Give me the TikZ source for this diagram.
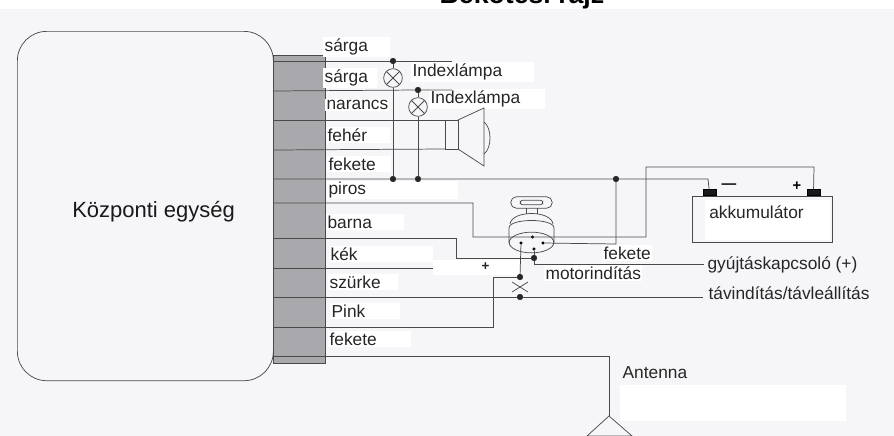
\documentclass[tikz,border=0pt]{standalone}
\usepackage{fontspec}
\setmainfont{Liberation Sans}
\usepackage{xcolor}
\usetikzlibrary{
    calc,
    shapes,
    positioning
}
\definecolor{scanbg}{HTML}{F6F6F9}
\definecolor{wirecol}{HTML}{4A4A4A}
\definecolor{blockcol}{HTML}{A9A9AD}
\tikzset{wdot/.style={inner sep=0pt, minimum size=4.2pt, circle, draw=black!85, fill=black!85}}
\tikzset{pinpt/.style={inner sep=0pt, minimum size=2pt, circle, draw=black, fill=black}}
\tikzset{lbl/.style={anchor=west, inner sep=1pt, fill=white, text=black!85, align=left, font=\fontsize{13}{14}\selectfont}}
\tikzset{wire/.style={draw=wirecol, line width=0.55pt}}
\tikzset{lampa/.style={inner sep=0pt, minimum size=14pt, circle, draw=wirecol, line width=0.55pt}}
\tikzset{polus/.style={inner sep=0pt, minimum width=10pt, minimum height=4.5pt, draw=black, fill=black!90}}

\begin{document}
\begin{tikzpicture}[x=0.75pt, y=-0.75pt]
    \useasboundingbox (0, 0) rectangle (894, 436);
    \fill[scanbg] (0, 0) rectangle (894, 436);
    \fill[white] (0, 0) rectangle (894, 9);
    \fill[white] (620, 385) rectangle (846, 421);
    \fill[white] (705, 200) rectangle (830, 240);
    \fill[white] (433, 260) rectangle (520, 275);

    % title, cut by the top edge
    \node[font=\bfseries\fontsize{20}{21}\selectfont, anchor=base, inner sep=0pt] (cim) at (522, 3) {Bekötési rajz};

    % central unit
    \node[draw=wirecol, line width=0.55pt, rounded corners=22pt, minimum width=192pt, minimum height=262pt, anchor=north west, inner sep=0pt] (kozpont) at (17, 31) {};
    \node[anchor=west, inner sep=0pt, font=\fontsize{16.5}{18}\selectfont, text=black!90] (kozpnev) at (72, 212) {Központi egység};
    \node[fill=blockcol, draw=wirecol, line width=0.4pt, minimum width=39pt, minimum height=231pt, anchor=north west, inner sep=0pt] (blokk) at (273, 55) {};

    % wire ends on the block
    \coordinate (a1) at (273, 61);
    \coordinate (a2) at (273, 91);
    \coordinate (a3) at (273, 120);
    \coordinate (a4) at (273, 150);
    \coordinate (a5) at (273, 179);
    \coordinate (a6) at (273, 203);
    \coordinate (a7) at (273, 238);
    \coordinate (a8) at (273, 268);
    \coordinate (a9) at (273, 297);
    \coordinate (a10) at (273, 327);
    \coordinate (a11) at (273, 356);

    % labels
    \node[lbl, text width=48pt] (l1) at (323, 47) {sárga};
    \node[lbl, text width=38pt] (l2) at (323, 78) {sárga};
    \node[lbl, text width=46pt] (l3) at (325, 105) {narancs};
    \node[lbl, text width=46pt] (l4) at (326, 135) {fehér};
    \node[lbl, text width=46pt] (l5) at (327, 164) {fekete};
    \node[lbl, text width=96pt] (l6) at (327, 190) {piros};
    \node[lbl, text width=56pt] (l7) at (326, 222) {barna};
    \node[lbl, text width=76pt] (l8) at (329, 254) {kék};
    \node[lbl, text width=50pt] (l9) at (328, 282) {szürke};
    \node[lbl, text width=50pt] (l10) at (330, 311) {Pink};
    \node[lbl, text width=60pt] (l11) at (328, 339) {fekete};
    \node[lbl, text width=90pt] (lx1) at (411, 72) {Indexlámpa};
    \node[lbl, text width=85pt] (lx2) at (429, 99) {Indexlámpa};
    \node[lbl] (lfek) at (602, 253) {fekete};
    \node[lbl] (lmot) at (544, 273) {motorindítás};
    \node[lbl, fill=none] (lgyu) at (706, 265) {gyújtáskapcsoló (+)};
    \node[lbl, fill=none] (ltav) at (707, 293) {távindítás/távleállítás};
    \node[lbl, fill=none] (lant) at (621, 373) {Antenna};
    \node[lbl, fill=none, font=\bfseries\fontsize{10}{11}\selectfont] (lplus) at (480, 267) {+};

    % dots
    \node[wdot] (d1) at (393, 61) {};
    \node[wdot] (d2) at (418, 90) {};
    \node[wdot] (d3) at (393, 179) {};
    \node[wdot] (d4) at (418, 179) {};
    \node[wdot] (d5) at (616, 179) {};
    \node[wdot] (d6) at (534, 258) {};
    \node[wdot] (d7) at (520, 277) {};
    \node[wdot] (d8) at (520, 297) {};

    % lamps
    \node[lampa] (lamp1) at (393, 78) {};
    \node[lampa] (lamp2) at (418, 107) {};
    \draw[wire] (lamp1.north west) -- (lamp1.south east);
    \draw[wire] (lamp1.north east) -- (lamp1.south west);
    \draw[wire] (lamp2.north west) -- (lamp2.south east);
    \draw[wire] (lamp2.north east) -- (lamp2.south west);

    % speaker
    \coordinate (sp1) at (445, 120);
    \coordinate (sp2) at (458, 120);
    \coordinate (sp3) at (458, 149);
    \coordinate (sp4) at (445, 149);
    \coordinate (sp5) at (484, 108);
    \coordinate (sp6) at (484, 166);
    \coordinate (sp7) at (484, 122);
    \coordinate (sp8) at (484, 154);
    \draw[wire] (sp1) -- (sp2) -- (sp3) -- (sp4) -- cycle;
    \draw[wire] (sp2) -- (sp5) -- (sp6) -- (sp3);
    \draw[wire] (sp7) .. controls (492, 128) and (492, 148) .. (sp8);

    % ignition switch
    \node[draw=wirecol, fill=none, line width=0.55pt, rounded corners=4pt, minimum width=31pt, minimum height=8.5pt, inner sep=0pt] (kulcs) at (531.5, 202.5) {};
    \node[draw=wirecol, line width=0.55pt, rounded corners=2pt, minimum width=17pt, minimum height=3.5pt, inner sep=0pt] (kulcsb) at (531.5, 202.5) {};
    \coordinate (sz1) at (526, 208);
    \coordinate (sz2) at (526, 214);
    \coordinate (sz3) at (537, 208);
    \coordinate (sz4) at (537, 214);
    \draw[wire] (sz1) -- (sz2);
    \draw[wire] (sz3) -- (sz4);
    \draw[wire] (510, 224) .. controls (512, 210) and (551, 210) .. (553, 224);
    \draw[wire] (509, 243) -- (509, 228) .. controls (509, 218) and (554, 218) .. (554, 228) -- (554, 243);
    \node[draw=wirecol, line width=0.55pt, ellipse, minimum width=33.5pt, minimum height=15.5pt, inner sep=0pt] (kapcs) at (531.5, 242.5) {};
    \node[pinpt] (p1) at (532.5, 237) {};
    \node[pinpt] (p2) at (521, 243) {};
    \node[pinpt] (p3) at (543, 243) {};
    \node[pinpt] (p4) at (534, 249) {};

    % battery
    \node[draw=wirecol, line width=0.55pt, minimum width=105pt, minimum height=34.5pt, anchor=north west, inner sep=0pt] (akku) at (692, 196) {};
    \node[anchor=west, inner sep=0pt, font=\fontsize{13}{14}\selectfont, text=black!85] (lakku) at (709, 212) {akkumulátor};
    \node[polus, anchor=south] (neg) at (709.5, 196) {};
    \node[polus, anchor=south] (pos) at (813.5, 196) {};
    \node[font=\bfseries\fontsize{11}{12}\selectfont, inner sep=0pt] (lmin) at (729, 186) {---};
    \node[font=\bfseries\fontsize{11}{12}\selectfont, inner sep=0pt] (lpos) at (797, 186) {+};

    % wires
    \coordinate (e1) at (452, 61);
    \coordinate (e2) at (452, 90);
    \coordinate (b1) at (473, 203);
    \coordinate (b2) at (473, 237);
    \coordinate (b3) at (646, 237);
    \coordinate (b4) at (646, 167);
    \coordinate (b5) at (814, 167);
    \coordinate (c1) at (708, 179);
    \coordinate (c2) at (616, 244);
    \coordinate (f1) at (456, 238);
    \coordinate (f2) at (456, 258);
    \coordinate (g1) at (534, 264);
    \coordinate (g2) at (704, 264);
    \coordinate (h1) at (433, 268);
    \coordinate (j1) at (703, 297);
    \coordinate (k1) at (493, 327);
    \coordinate (k2) at (493, 277);
    \coordinate (m1) at (609, 356);
    \coordinate (m2) at (609, 416);
    \coordinate (m3) at (587, 436);
    \coordinate (m4) at (632, 436);
    \coordinate (x1) at (512, 282);
    \coordinate (x2) at (528, 292);
    \coordinate (x3) at (528, 282);
    \coordinate (x4) at (512, 292);

    \draw[wire] (a1) -- (d1) -- (e1);
    \draw[wire] (a2) -- (d2) -- (e2);
    \draw[wire] (a3) -- (sp1);
    \draw[wire] (a4) -- (sp4);
    \draw[wire] (a5) -- (d3) -- (d4) -- (d5) -- (c1) -- (neg);
    \draw[wire] (d1) -- (lamp1) -- (d3);
    \draw[wire] (d2) -- (lamp2) -- (d4);
    \draw[wire] (a6) -- (b1) -- (b2) -- (b3) -- (b4) -- (b5) -- (pos);
    \draw[wire] (d5) -- (c2) -- (p3);
    \draw[wire] (a7) -- (f1) -- (f2) -- (d6);
    \draw[wire] (p4) -- (d6) -- (g1) -- (g2);
    \draw[wire] (a8) -- (h1);
    \draw[wire] (a9) -- (d8) -- (j1);
    \draw[wire] (a10) -- (k1) -- (k2) -- (d7);
    \draw[wire] (p2) -- (d7);
    \draw[wire] (x1) -- (x2);
    \draw[wire] (x3) -- (x4);
    \draw[wire] (a11) -- (m1) -- (m2);
    \draw[wire] (m2) -- (m3) -- (m4) -- cycle;
\end{tikzpicture}
\end{document}
